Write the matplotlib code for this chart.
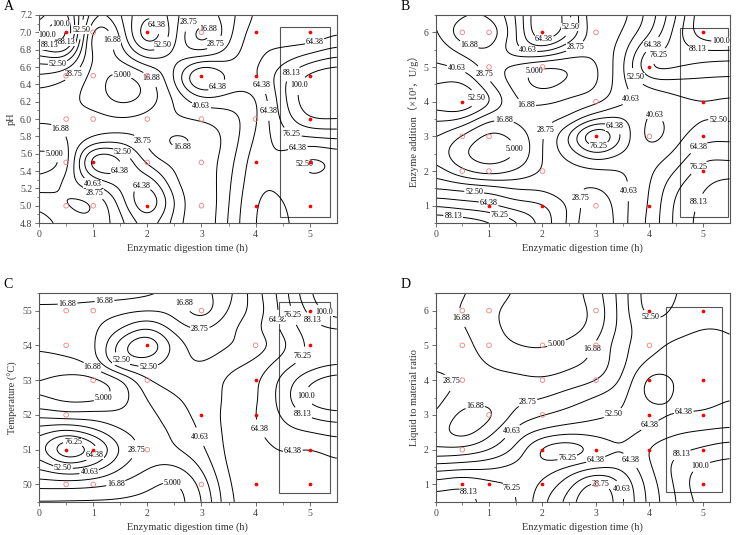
import numpy as np
import matplotlib
matplotlib.use("Agg")
import matplotlib.pyplot as plt
from matplotlib.patches import Rectangle

plt.rcParams['font.family'] = ['Liberation Serif', 'Noto Sans CJK SC', 'DejaVu Sans']

LEVELS = [5.000, 16.88, 28.75, 40.63, 52.50, 64.38, 76.25, 88.13, 100.0]
XLABEL = "Enzymatic digestion time (h)"

# grid columns (digestion time, h) shared by all panels
grid_x = [0, 0.5, 1, 1.5, 2, 2.5, 3, 3.5, 4, 4.5, 5, 5.5]

# ---------------- panel A : pH ----------------
a_y = [7.2, 7.0, 6.75, 6.5, 6.25, 6.0, 5.75, 5.5, 5.25, 5.0, 4.8]
a_z = [
    [80, 95, 30, 40, 65, 45, 25, 35, 55, 55, 52, 55],
    [95, 115, 0, 30, 78, 45, 5, 38, 60, 58, 56, 65],
    [60, 65, 12, 20, 45, 35, 40, 48, 62, 70, 80, 88],
    [38, 30, 12, 0, 12, 42, 88, 62, 63, 85, 105, 112],
    [22, 20, 12, 0, 8, 30, 50, 48, 50, 85, 110, 115],
    [18, 18, 22, 18, 22, 28, 30, 35, 50, 80, 100, 100],
    [12, 16, 30, 35, 26, 12, 20, 32, 55, 70, 72, 75],
    [0, 6, 80, 68, 35, 25, 22, 35, 60, 62, 48, 55],
    [8, 20, 45, 58, 62, 30, 20, 38, 62, 62, 55, 58],
    [25, 15, 15, 45, 80, 40, 18, 40, 65, 65, 58, 60],
    [35, 25, 20, 35, 58, 35, 18, 42, 66, 66, 60, 62],
]
a_full = [(0.5, 7.0), (2, 7.0), (4, 7.0), (5, 7.0), (3, 6.5), (4, 6.5), (5, 6.5),
          (5, 6.0), (1, 5.5), (4, 5.5), (5, 5.5), (2, 5.0), (4, 5.0), (5, 5.0)]
a_open = [(1, 7.0), (3, 7.0), (0.5, 6.5), (1, 6.5), (2, 6.5), (0.5, 6.0), (1, 6.0),
          (2, 6.0), (3, 6.0), (4, 6.0), (0.5, 5.5), (2, 5.5), (3, 5.5), (0.5, 5.0),
          (1, 5.0), (3, 5.0)]
a_labels = [(0.44, 7.12), (0.81, 7.03), (0.14, 6.97), (1.18, 6.89), (0.18, 6.83),
            (0.54, 6.87), (0.35, 6.62), (0.64, 6.51), (2.26, 7.12), (2.75, 7.12),
            (3.21, 7.08), (2.32, 6.83), (3.30, 6.84), (5.0, 7.11), (1.55, 6.55),
            (2.13, 6.50), (3.33, 6.34), (4.16, 6.41), (4.71, 6.50), (5.03, 6.34),
            (3.0, 6.16), (4.13, 6.09), (0.35, 5.86), (2.01, 5.81), (2.63, 5.70),
            (4.69, 5.86), (4.77, 5.70), (0.25, 5.58), (1.52, 5.59), (4.84, 5.49),
            (1.56, 5.36), (1.0, 5.27), (1.89, 5.16), (0.97, 5.08)]

# ---------------- panel B : enzyme addition ----------------
b_y = [6.5, 6.0, 5.5, 5.0, 4.5, 4.0, 3.5, 3.0, 2.5, 2.0, 1.5, 1.0, 0.5]
b_z = [
    [30, 20, 20, 40, 80, 55, 15, 25, 45, 75, 110, 115],
    [32, 5, 5, 38, 80, 55, 18, 30, 50, 82, 110, 112],
    [38, 25, 18, 40, 48, 28, 20, 35, 68, 82, 88, 88],
    [42, 38, 22, 12, 2, 5, 15, 38, 80, 78, 72, 70],
    [52, 55, 30, 12, 0, 8, 15, 38, 55, 58, 60, 60],
    [60, 68, 45, 18, 15, 20, 25, 38, 43, 50, 52, 50],
    [42, 40, 18, 20, 25, 30, 50, 55, 38, 45, 52, 50],
    [30, 15, 0, 8, 28, 55, 100, 62, 35, 48, 60, 62],
    [25, 5, 0, 3, 30, 45, 62, 50, 45, 55, 72, 70],
    [35, 18, 8, 18, 30, 35, 38, 40, 50, 65, 82, 85],
    [52, 50, 48, 40, 38, 30, 28, 38, 52, 75, 88, 92],
    [75, 70, 66, 58, 55, 40, 18, 38, 53, 80, 90, 95],
    [100, 98, 92, 80, 60, 38, 15, 38, 55, 80, 92, 97],
]
b_full = [(2, 6), (5, 6), (4, 5), (0.5, 4), (5, 4), (3, 3), (5, 3), (5, 2),
          (1, 1), (2, 1), (4, 1)]
b_open = [(0.5, 6), (1, 6), (3, 6), (1, 5), (2, 5), (3, 4), (0.5, 3), (1, 3),
          (4, 3), (0.5, 2), (1, 2), (2, 2), (3, 1)]
b_labels = [(0.66, 5.78), (2.03, 5.88), (2.47, 6.16), (1.72, 5.49), (2.59, 5.64),
            (4.09, 5.59), (4.22, 5.25), (5.34, 5.70), (4.91, 5.51), (0.38, 4.92),
            (0.88, 4.77), (1.88, 4.80), (3.69, 4.65), (0.78, 4.10), (1.66, 3.76),
            (3.78, 4.00), (4.11, 3.62), (1.28, 3.43), (2.00, 3.24), (5.28, 3.40),
            (3.31, 3.19), (3.04, 2.85), (1.50, 2.63), (4.94, 2.63), (4.88, 2.18),
            (3.54, 1.41), (2.75, 1.22), (0.72, 1.36), (1.00, 1.12), (1.21, 0.79),
            (0.33, 0.71), (5.09, 0.98)]

# ---------------- panel C : temperature ----------------
c_y = [55.5, 55.0, 54.5, 54.0, 53.5, 53.0, 52.5, 52.0, 51.5, 51.0, 50.5, 50.0, 49.5]
c_z = [
    [8, 9, 10, 11, 14, 18, 14, 25, 48, 70, 100, 112],
    [22, 22, 24, 26, 28, 25, 8, 30, 45, 68, 92, 110],
    [20, 24, 26, 38, 52, 35, 28, 38, 50, 68, 82, 88],
    [18, 20, 25, 60, 80, 48, 35, 40, 45, 60, 80, 80],
    [14, 15, 22, 55, 58, 45, 40, 48, 55, 70, 80, 85],
    [5, 0, 0, 12, 40, 45, 45, 55, 62, 80, 98, 108],
    [5, 0, 0, 10, 30, 40, 45, 55, 62, 82, 105, 115],
    [25, 20, 22, 20, 25, 35, 45, 56, 64, 78, 90, 95],
    [48, 58, 45, 30, 25, 30, 42, 56, 62, 72, 76, 80],
    [58, 95, 75, 40, 25, 28, 38, 56, 60, 65, 63, 68],
    [42, 55, 48, 30, 18, 15, 30, 55, 60, 62, 60, 62],
    [22, 22, 20, 15, 8, 2, 20, 52, 62, 60, 58, 60],
    [2, 2, 2, 2, 1, 0, 15, 50, 60, 60, 58, 60],
]
c_full = [(5, 55), (2, 54), (5, 54), (4, 53), (3, 52), (4, 52), (0.5, 51), (1, 51),
          (5, 51), (4, 50), (5, 50)]
c_open = [(0.5, 55), (1, 55), (3, 55), (0.5, 54), (4, 54), (1, 53), (2, 53),
          (0.5, 52), (2, 51), (0.5, 50), (1, 50), (3, 50)]
c_labels = [(1.21, 55.26), (2.73, 55.24), (0.54, 54.83), (2.97, 54.61), (4.27, 54.73),
            (4.69, 54.86), (5.24, 54.90), (4.98, 54.59), (1.50, 53.54), (2.02, 53.33),
            (0.97, 53.33), (5.01, 53.56), (1.12, 52.70), (5.01, 52.56), (4.90, 52.12),
            (4.14, 51.64), (3.00, 51.39), (0.62, 51.14), (1.02, 50.86), (1.74, 51.02),
            (0.44, 50.48), (0.93, 50.33), (1.40, 50.14), (2.48, 50.11), (4.73, 50.40)]

# ---------------- panel D : liquid to material ratio ----------------
d_y = [6.5, 6.0, 5.5, 5.0, 4.5, 4.0, 3.5, 3.0, 2.5, 2.0, 1.5, 1.0, 0.5]
d_z = [
    [25, 18, 12, 4, 0, 0, 12, 35, 60, 52, 50, 50],
    [25, 15, 8, 0, 0, 0, 8, 35, 58, 50, 50, 50],
    [26, 18, 8, 2, 0, 0, 10, 35, 48, 48, 52, 52],
    [30, 22, 10, 5, 4, 8, 18, 38, 48, 55, 58, 53],
    [28, 25, 15, 12, 10, 14, 20, 38, 55, 60, 60, 60],
    [30, 28, 22, 20, 18, 22, 28, 42, 70, 63, 62, 62],
    [32, 25, 22, 25, 28, 35, 42, 50, 68, 63, 62, 64],
    [30, 12, 12, 32, 40, 45, 50, 54, 60, 64, 65, 68],
    [22, 10, 25, 45, 55, 60, 60, 60, 68, 75, 78, 80],
    [30, 32, 40, 55, 82, 88, 74, 65, 78, 85, 90, 95],
    [58, 60, 62, 68, 72, 62, 55, 55, 75, 92, 102, 105],
    [82, 88, 80, 75, 62, 45, 22, 42, 70, 90, 110, 112],
    [95, 92, 85, 78, 55, 35, 12, 40, 68, 88, 105, 115],
]
d_full = [(4, 6), (5, 6), (4, 4), (5, 4), (4, 3), (5, 3), (2, 2), (3, 2), (4, 2),
          (5, 2), (0.5, 1), (1, 1), (2, 1), (5, 1)]
d_open = [(0.5, 6), (1, 6), (3, 6), (0.5, 5), (1, 5), (2, 5), (3, 5), (4, 5),
          (0.5, 4), (2, 4), (3, 4), (1, 3), (2, 3), (0.5, 2), (3, 1)]
d_labels = [(0.61, 5.86), (2.18, 5.42), (2.77, 5.01), (3.99, 5.70), (0.58, 4.17),
            (1.72, 3.38), (3.26, 3.21), (4.64, 3.09), (0.76, 2.95), (1.38, 2.61),
            (4.09, 2.47), (4.55, 2.01), (2.46, 1.80), (2.98, 1.80), (3.56, 1.58),
            (4.98, 1.46), (3.10, 1.08), (3.56, 0.90), (1.41, 0.88), (0.61, 0.74)]


def catmull(v, n):
    # cubic resampling of a 1D profile (only to draw rounded contours)
    v = np.asarray(v, float)
    p = np.concatenate([[v[0]], v, [v[-1]]])
    t = np.linspace(0, len(v) - 1, n)
    i = np.clip(np.floor(t).astype(int), 0, len(v) - 2)
    f = t - i
    p0, p1, p2, p3 = p[i], p[i + 1], p[i + 2], p[i + 3]
    return 0.5 * ((2 * p1) + (-p0 + p2) * f + (2 * p0 - 5 * p1 + 4 * p2 - p3) * f ** 2
                  + (-p0 + 3 * p1 - 3 * p2 + p3) * f ** 3)


def blur(v, sigma):
    k = np.arange(-3 * sigma, 3 * sigma + 1)
    k = np.exp(-0.5 * (k / sigma) ** 2)
    k /= k.sum()
    r = len(k) // 2
    p = np.pad(v, r, mode="edge")
    return np.convolve(p, k, mode="valid")


def smooth_grid(z, nx=166, ny=150, sigma=5):
    z = np.asarray(z, float)
    z = np.array([blur(catmull(r, nx), sigma) for r in z])
    z = np.array([blur(catmull(c, ny), sigma) for c in z.T]).T
    return z


def fmt(v):
    if v < 10:
        return f"{v:.3f}"
    if v < 100:
        return f"{v:.2f}"
    return f"{v:.1f}"


panels = [
    dict(label="A", ys=a_y, z=a_z, full=a_full, hollow=a_open, marks=a_labels,
         ylim=(4.8, 7.2), yticks=np.round(np.arange(4.8, 7.21, 0.2), 1),
         yfmt="{:.1f}", yminor=0.1, ylabel="pH", rect=(4.45, 4.87, 0.93, 2.19),
         pos=[0.053, 0.583, 0.404, 0.389]),
    dict(label="B", ys=b_y, z=b_z, full=b_full, hollow=b_open, marks=b_labels,
         ylim=(0.5, 6.5), yticks=[1, 2, 3, 4, 5, 6], yfmt="{:.0f}", yminor=0.5,
         ylabel="Enzyme addition（×10³，U/g）", rect=(4.57, 0.67, 0.9, 5.45),
         pos=[0.591, 0.583, 0.399, 0.389]),
    dict(label="C", ys=c_y, z=c_z, full=c_full, hollow=c_open, marks=c_labels,
         ylim=(49.5, 55.5), yticks=[50, 51, 52, 53, 54, 55], yfmt="{:.0f}", yminor=0.5,
         ylabel="Temperature (°C)", rect=(4.43, 49.75, 0.95, 5.49),
         pos=[0.053, 0.062, 0.404, 0.390]),
    dict(label="D", ys=d_y, z=d_z, full=d_full, hollow=d_open, marks=d_labels,
         ylim=(0.5, 6.5), yticks=[1, 2, 3, 4, 5, 6], yfmt="{:.0f}", yminor=0.5,
         ylabel="Liquid to material ratio", rect=(4.31, 0.77, 1.05, 5.33),
         pos=[0.591, 0.062, 0.399, 0.390]),
]

fig = plt.figure(figsize=(7.37, 5.35), dpi=100)

for p in panels:
    ax = fig.add_axes(p["pos"])
    ax.set_xlim(0, 5.5)
    ax.set_ylim(*p["ylim"])
    zs = smooth_grid(p["z"])
    xs = np.linspace(grid_x[0], grid_x[-1], zs.shape[1])
    ys = np.linspace(p["ys"][0], p["ys"][-1], zs.shape[0])
    cs = ax.contour(xs, ys, zs, levels=LEVELS, colors="black", linewidths=0.7)
    labels = ax.clabel(cs, fmt=fmt, fontsize=5.8, inline=True, inline_spacing=1,
                       manual=p["marks"])
    for t in labels:
        t.set_rotation(0)
        t.set_bbox(dict(facecolor="white", edgecolor="none", pad=0.1))

    fx, fy = zip(*p["full"])
    hx, hy = zip(*p["hollow"])
    ax.scatter(fx, fy, s=7, color="#ff0000", zorder=5, linewidths=0)
    ax.scatter(hx, hy, s=11, facecolors="none", edgecolors="#f08080",
               linewidths=0.6, zorder=5)

    rx, ry, rw, rh = p["rect"]
    ax.add_patch(Rectangle((rx, ry), rw, rh, fill=False, edgecolor="#555555", lw=0.8))

    ax.set_xticks([0, 1, 2, 3, 4, 5])
    ax.set_xticks(np.arange(0.5, 5.5, 1), minor=True)
    ax.set_yticks(p["yticks"])
    ax.set_yticklabels([p["yfmt"].format(t) for t in p["yticks"]])
    ax.yaxis.set_minor_locator(matplotlib.ticker.MultipleLocator(p["yminor"]))
    ax.tick_params(which="major", length=3, width=0.6, labelsize=7,
                   color="#555555", labelcolor="#444444", pad=2)
    ax.tick_params(which="minor", length=1.8, width=0.5, color="#555555")
    for s in ax.spines.values():
        s.set_color("#555555")
        s.set_linewidth(0.8)
    ax.set_xlabel(XLABEL, fontsize=7.5, color="#333333", labelpad=3)
    ax.set_ylabel(p["ylabel"], fontsize=7.5, color="#333333", labelpad=3)
    fig.text(p["pos"][0] - 0.048, p["pos"][1] + p["pos"][3] + 0.004, p["label"],
             fontsize=10, va="bottom", ha="left")

fig.savefig("out.png", dpi=100)
